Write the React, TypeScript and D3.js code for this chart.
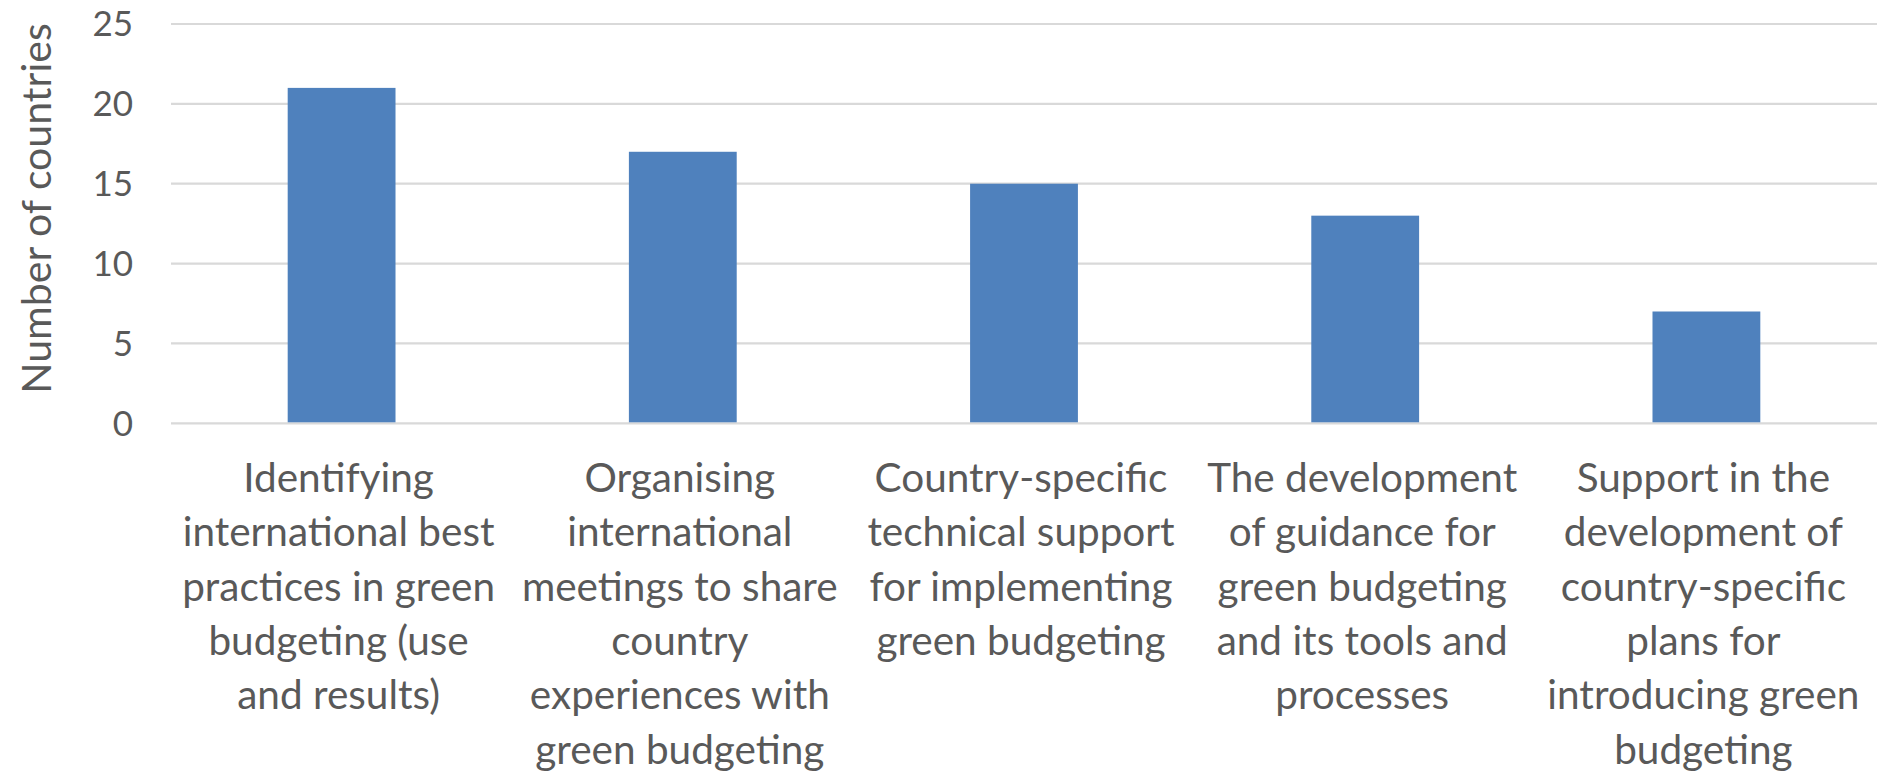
import React from "react";
import * as d3 from "d3";

const categories: string[][] = [
  ["Identifying", "international best", "practices in green", "budgeting (use", "and results)"],
  ["Organising", "international", "meetings to share", "country", "experiences with", "green budgeting"],
  ["Country-specific", "technical support", "for implementing", "green budgeting"],
  ["The development", "of guidance for", "green budgeting", "and its tools and", "processes"],
  ["Support in the", "development of", "country-specific", "plans for", "introducing green", "budgeting"],
];
const values: number[] = [21, 17, 15, 13, 7];
const yTicks: number[] = [0, 5, 10, 15, 20, 25];
const yTitle = "Number of countries";

const W = 1880;
const H = 773;
const left = 171;
const right = 1877;
const top = 24;
const bottom = 423.3;
const FONT = "Lato, 'Open Sans', sans-serif";
const TEXT = "#595959";

export default function App() {
  const x = d3
    .scaleBand<number>()
    .domain(values.map((_, i) => i))
    .range([left, right])
    .paddingInner(0)
    .paddingOuter(0);
  const y = d3.scaleLinear().domain([0, 25]).range([bottom, top]);
  const barW = x.bandwidth() * 0.316;

  return (
    <svg
      width={W}
      height={H}
      style={{ position: "absolute", left: 0, top: 0, display: "block", background: "#fff" }}
      fontFamily={FONT}
    >
      {yTicks.map((t) => (
        <g key={t}>
          <line x1={left} x2={right} y1={y(t)} y2={y(t)} stroke="#d9d9d9" strokeWidth={2.2} />
          <text x={133} y={y(t)} dy="0.35em" textAnchor="end" fontSize={35} fill={TEXT}>
            {t}
          </text>
        </g>
      ))}
      {values.map((v, i) => {
        const cx = (x(i) as number) + x.bandwidth() / 2;
        return (
          <rect
            key={i}
            x={cx - barW / 2}
            y={y(v)}
            width={barW}
            height={y(0) - y(v) - 1}
            fill="#4f81bd"
          />
        );
      })}
      {categories.map((lines, i) => {
        const cx = (x(i) as number) + x.bandwidth() / 2 - 3;
        return (
          <text key={i} textAnchor="middle" fontSize={40.5} fill={TEXT}>
            {lines.map((l, j) => (
              <tspan key={j} x={cx} y={492 + j * 54.3}>
                {l}
              </tspan>
            ))}
          </text>
        );
      })}
      <text
        transform={`translate(51, ${208.5}) rotate(-90)`}
        textAnchor="middle"
        fontSize={41}
        fill={TEXT}
      >
        {yTitle}
      </text>
    </svg>
  );
}
